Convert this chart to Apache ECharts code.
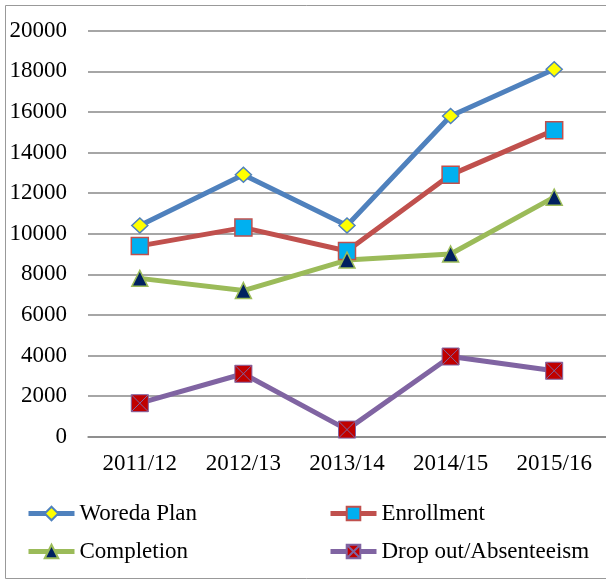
<!DOCTYPE html>
<html>
<head>
<meta charset="utf-8">
<script src="https://cdn.jsdelivr.net/npm/echarts@6/dist/echarts.min.js"></script>
<style>html,body{margin:0;padding:0;background:#fff;}#c{width:606px;height:583px;}</style>
</head>
<body>
<div id="c"></div>
<script>
const categories = ['2011/12', '2012/13', '2013/14', '2014/15', '2015/16'];
const woredaPlan = [10400, 12900, 10400, 15800, 18100];
const enrollment = [9400, 10300, 9150, 12900, 15100];
const completion = [7800, 7200, 8700, 9000, 11800];
const dropOut = [1650, 3100, 350, 3950, 3250];
const yTicks = { min: 0, max: 20000, interval: 2000 };

const FONT = '"Liberation Serif", "Times New Roman", serif';
const chart = echarts.init(document.getElementById('c'), null, { renderer: 'canvas' });

function legendAt(name, left, top) {
  const ts = { fontFamily: FONT, fontSize: 23, color: '#000' };
  return {
    data: [{ name: name, textStyle: ts }], left: left, top: top, padding: 0,
    itemWidth: 46, itemHeight: 17, itemGap: 0,
    lineStyle: { width: 5 },
    textStyle: ts
  };
}

chart.setOption({
  animation: false,
  backgroundColor: '#fff',
  textStyle: { fontFamily: FONT },
  graphic: [{
    type: 'rect', silent: true,
    shape: { x: 5.5, y: 5.5, width: 700, height: 573 },
    style: { fill: 'none', stroke: '#999', lineWidth: 1 }
  }],
  grid: { left: 88, right: -5, top: 30.7, bottom: 146.3, containLabel: false },
  legend: [
    legendAt('Woreda Plan', 26, 502),
    legendAt('Enrollment', 328, 502),
    legendAt('Completion', 26, 540),
    legendAt('Drop out/Absenteeism', 328, 540)
  ],
  xAxis: {
    type: 'category', data: categories, boundaryGap: true,
    axisLine: { show: true, lineStyle: { color: '#888', width: 1.5 } },
    axisTick: { show: false },
    axisLabel: { fontFamily: FONT, fontSize: 23, color: '#000', margin: 16 }
  },
  yAxis: {
    type: 'value', min: yTicks.min, max: yTicks.max, interval: yTicks.interval,
    axisLine: { show: false }, axisTick: { show: false },
    splitLine: { lineStyle: { color: '#888', width: 1.5 } },
    axisLabel: { fontFamily: FONT, fontSize: 23, color: '#000', margin: 21,
      formatter: function (v) { return String(v); } }
  },
  series: [
    {
      name: 'Woreda Plan', type: 'line', data: woredaPlan,
      symbol: 'diamond', symbolSize: [16, 15],
      lineStyle: { color: '#4F81BD', width: 5 },
      itemStyle: { color: '#FFFF00', borderColor: '#4F81BD', borderWidth: 1.5 }
    },
    {
      name: 'Enrollment', type: 'line', data: enrollment,
      symbol: 'rect', symbolSize: 17,
      lineStyle: { color: '#C0504D', width: 5 },
      itemStyle: { color: '#00B0F0', borderColor: '#C0504D', borderWidth: 1.5 }
    },
    {
      name: 'Completion', type: 'line', data: completion,
      symbol: 'triangle', symbolSize: 16,
      lineStyle: { color: '#9BBB59', width: 5 },
      itemStyle: { color: '#002060', borderColor: '#9BBB59', borderWidth: 1.5 }
    },
    {
      name: 'Drop out/Absenteeism', type: 'line', data: dropOut,
      symbol: 'path://M0 0H10V10H0Z M0 0L10 10 M10 0L0 10', symbolSize: 17,
      lineStyle: { color: '#8064A2', width: 5 },
      itemStyle: { color: '#C00000', borderColor: '#8064A2', borderWidth: 1 }
    }
  ]
});
</script>
</body>
</html>
